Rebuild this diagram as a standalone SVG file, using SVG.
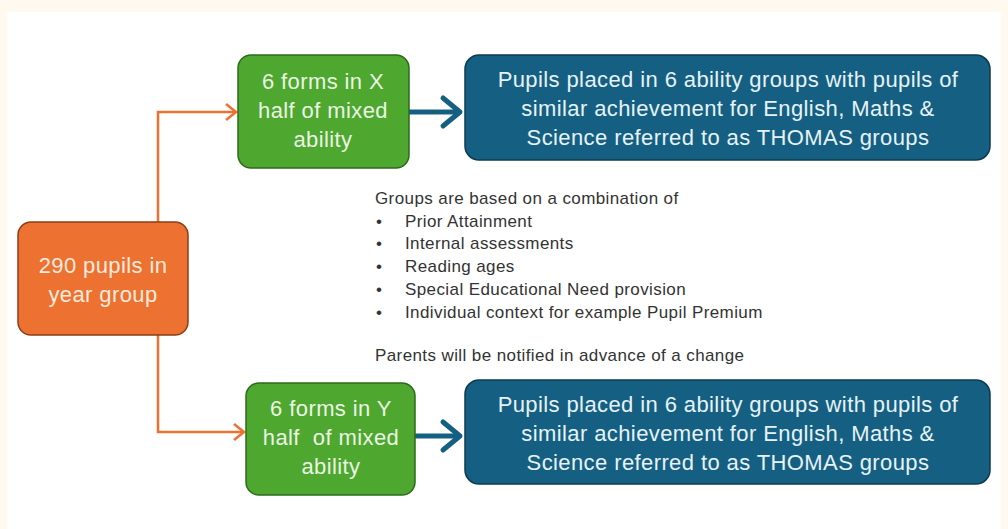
<svg xmlns="http://www.w3.org/2000/svg" width="1008" height="529" viewBox="0 0 1008 529">
<defs>
<style>
.orange{fill:#ED7131;stroke:#8C3E17;stroke-width:1.5}
.green{fill:#4EA72E;stroke:#2E6A1C;stroke-width:1.5}
.blue{fill:#156082;stroke:#0C3A50;stroke-width:1.5}
.lbl{font-family:"Liberation Sans",Arial,sans-serif;font-size:22px;letter-spacing:0.4px;text-anchor:middle}
.lg{fill:#EAF6E4}
.lo{fill:#FDEBDD}
.lb{fill:#E6F2F8}
.note{font-family:"Liberation Sans",Arial,sans-serif;font-size:17px;letter-spacing:0.4px;fill:#333333}
.oc{fill:none;stroke:#ED7131;stroke-width:2.5}
.bc{fill:none;stroke:#156082;stroke-width:5;stroke-linecap:round;stroke-linejoin:round}
.pre{white-space:pre}
</style>
</defs>
<rect width="1008" height="529" fill="#FFF9F0"/>
<rect x="7" y="12" width="994" height="517" fill="#FFFFFF"/>
<g id="connectors">
<path class="oc" d="M158 222 V112 H236"/>
<path d="M226 104 L236 112 L226 120" fill="none" stroke="#ED7131" stroke-width="2.5"/>
<path class="oc" d="M158 335 V432 H244"/>
<path d="M234 424 L244 432 L234 440" fill="none" stroke="#ED7131" stroke-width="2.5"/>
<path class="bc" d="M410 112 H459"/>
<path class="bc" d="M443 98 L460 112 L443 126"/>
<path class="bc" d="M416 436 H459"/>
<path class="bc" d="M443 422 L460 436 L443 450"/>
</g>
<g id="n-pupils">
<rect class="orange" x="18" y="222" width="170" height="113" rx="13"/>
<text class="lbl lo" x="103" y="273">290 pupils in</text>
<text class="lbl lo" x="103" y="302">year group</text>
</g>
<g id="n-formsX">
<rect class="green" x="238" y="55" width="171" height="113" rx="13"/>
<text class="lbl lg" x="323" y="89">6 forms in X</text>
<text class="lbl lg" x="323" y="118">half of mixed</text>
<text class="lbl lg" x="323" y="147">ability</text>
</g>
<g id="n-formsY">
<rect class="green" x="246" y="383" width="169" height="112" rx="13"/>
<text class="lbl lg" x="331" y="416">6 forms in Y</text>
<text class="lbl lg pre" x="331" y="445" xml:space="preserve">half  of mixed</text>
<text class="lbl lg" x="331" y="474">ability</text>
</g>
<g id="n-groupsX">
<rect class="blue" x="465" y="55" width="525" height="105" rx="14"/>
<text class="lbl lb" x="728" y="87">Pupils placed in 6 ability groups with pupils of</text>
<text class="lbl lb" x="728" y="116">similar achievement for English, Maths &amp;</text>
<text class="lbl lb" x="728" y="145">Science referred to as THOMAS groups</text>
</g>
<g id="n-groupsY">
<rect class="blue" x="465" y="380" width="525" height="104" rx="14"/>
<text class="lbl lb" x="728" y="412">Pupils placed in 6 ability groups with pupils of</text>
<text class="lbl lb" x="728" y="441">similar achievement for English, Maths &amp;</text>
<text class="lbl lb" x="728" y="470">Science referred to as THOMAS groups</text>
</g>
<g id="n-note">
<text class="note" x="375" y="204">Groups are based on a combination of</text>
<text class="note" x="376" y="227">•</text>
<text class="note" x="405" y="227">Prior Attainment</text>
<text class="note" x="376" y="249">•</text>
<text class="note" x="405" y="249">Internal assessments</text>
<text class="note" x="376" y="272">•</text>
<text class="note" x="405" y="272">Reading ages</text>
<text class="note" x="376" y="295">•</text>
<text class="note" x="405" y="295">Special Educational Need provision</text>
<text class="note" x="376" y="318">•</text>
<text class="note" x="405" y="318">Individual context for example Pupil Premium</text>
<text class="note" x="375" y="361">Parents will be notified in advance of a change</text>
</g>
</svg>
